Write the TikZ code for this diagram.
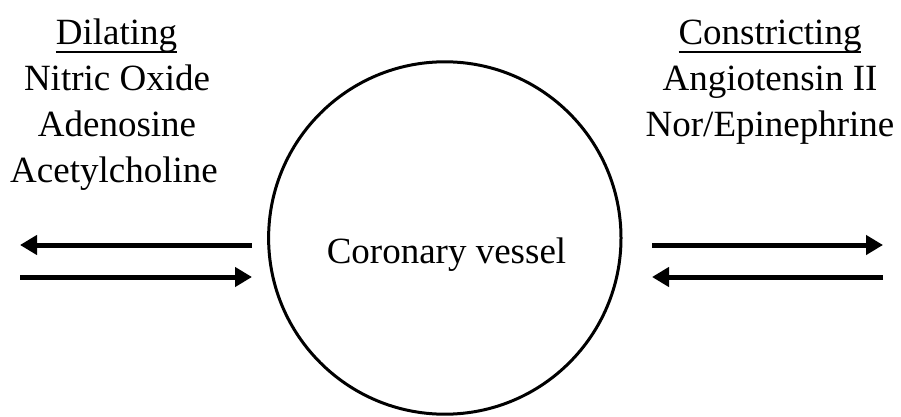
\documentclass[tikz,border=0pt]{standalone}
\usepackage{fontspec}
\setmainfont{Liberation Serif}
\usetikzlibrary{arrows.meta}

\tikzset{
  txt/.style={anchor=base, inner sep=0pt, outer sep=0pt,
    font=\fontsize{37}{44.4}\selectfont},
  headrule/.style={line width=2.4pt},
  flow/.style={line width=5pt, -{Triangle[length=17pt,width=19pt]}},
  vesselring/.style={circle, draw, line width=3pt, minimum size=352.4pt,
    inner sep=0pt}
}

\begin{document}
\begin{tikzpicture}[x=1pt,y=-1pt]
  \useasboundingbox (0,0) rectangle (901,417);

  % the vessel cross-section
  \node[vesselring] (vessel) at (444.8,238) {};
  \node[txt] (vessellabel) at (446.5,263) {Coronary vessel};

  % dilating agents
  \node[txt] (dil) at (116.5,45) {Dilating};
  \draw[headrule] ([yshift=-7pt]dil.base west) -- ([yshift=-7pt]dil.base east);
  \node[txt] (no)   at (117,91)  {Nitric Oxide};
  \node[txt] (ado)  at (117,136.5) {Adenosine};
  \node[txt] (ach)  at (114,182) {Acetylcholine};

  % constricting agents
  \node[txt] (con) at (770,45) {Constricting};
  \draw[headrule] ([yshift=-7pt]con.base west) -- ([yshift=-7pt]con.base east);
  \node[txt] (ang) at (770,91) {Angiotensin II};
  \node[txt] (epi) at (770,136.5) {Nor/Epinephrine};

  % arrow end points
  \coordinate (la1) at (252,245);
  \coordinate (la2) at (20,245);
  \coordinate (lb1) at (20,277);
  \coordinate (lb2) at (252,277);
  \coordinate (ra1) at (652,245);
  \coordinate (ra2) at (883,245);
  \coordinate (rb1) at (883,277);
  \coordinate (rb2) at (652,277);

  \draw[flow] (la1) -- (la2);
  \draw[flow] (lb1) -- (lb2);
  \draw[flow] (ra1) -- (ra2);
  \draw[flow] (rb1) -- (rb2);
\end{tikzpicture}
\end{document}
